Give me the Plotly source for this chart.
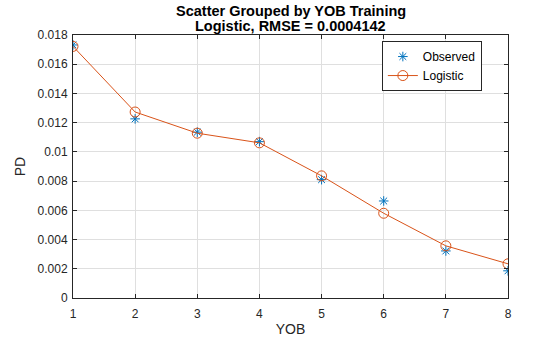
import plotly.graph_objects as go

yob = [1, 2, 3, 4, 5, 6, 7, 8]
observed_pd = [0.01732, 0.01226, 0.01135, 0.01070, 0.00810, 0.00664, 0.00322, 0.00186]
logistic_pd = [0.01722, 0.01273, 0.01128, 0.01062, 0.00836, 0.00580, 0.00357, 0.00234]
y_ticks = [0, 0.002, 0.004, 0.006, 0.008, 0.01, 0.012, 0.014, 0.016, 0.018]
y_tick_text = ["0", "0.002", "0.004", "0.006", "0.008", "0.01", "0.012", "0.014", "0.016", "0.018"]
title_lines = ["Scatter Grouped by YOB Training", "Logistic, RMSE = 0.0004142"]

blue = "#0072BD"
orange = "#D95319"
font = "Liberation Sans, Arial, sans-serif"

fig = go.Figure()
fig.add_trace(go.Scatter(
    x=yob, y=observed_pd, mode="markers", name="Observed",
    marker=dict(symbol="asterisk-open", size=8, color=blue, line=dict(color=blue, width=1)),
))
fig.add_trace(go.Scatter(
    x=yob, y=logistic_pd, mode="lines+markers", name="Logistic",
    line=dict(color=orange, width=1),
    marker=dict(symbol="circle-open", size=10, color=orange, line=dict(color=orange, width=1)),
))

axis_common = dict(
    showline=True, linecolor="#262626", linewidth=1, mirror="allticks",
    ticks="inside", ticklen=4, tickcolor="#262626", automargin=False,
    showgrid=True, gridcolor="#DFDFDF", gridwidth=1, zeroline=False,
    tickfont=dict(family=font, size=12, color="#262626"),
)

# title lines as annotations (paper coords; plot area is 263 px tall)
for i, line in enumerate(title_lines):
    fig.add_annotation(
        text="<b>" + line + "</b>", xref="paper", yref="paper",
        x=0.5, y=1 + (24 - 15 * i) / 263, xanchor="center", yanchor="middle",
        showarrow=False, font=dict(family=font, size=14.5, color="black"),
    )

fig.update_layout(
    width=560, height=337,
    margin=dict(l=73, r=52, t=35, b=39),
    paper_bgcolor="white", plot_bgcolor="white",
    font=dict(family=font, color="#262626"),
    xaxis=dict(range=[1, 8], tickvals=yob, ticklabelstandoff=5,
               title=dict(text="YOB", font=dict(size=14), standoff=4), **axis_common),
    yaxis=dict(range=[0, 0.018], tickvals=y_ticks, ticktext=y_tick_text, ticklabelstandoff=2,
               title=dict(text="PD", font=dict(size=14), standoff=8), **axis_common),
    legend=dict(
        x=0.71, y=0.977, xanchor="left", yanchor="top",
        bgcolor="white", bordercolor="#262626", borderwidth=1,
        font=dict(family=font, size=12, color="black"),
        tracegroupgap=0, itemwidth=30,
    ),
    showlegend=True,
)

fig.write_html("out.html")
